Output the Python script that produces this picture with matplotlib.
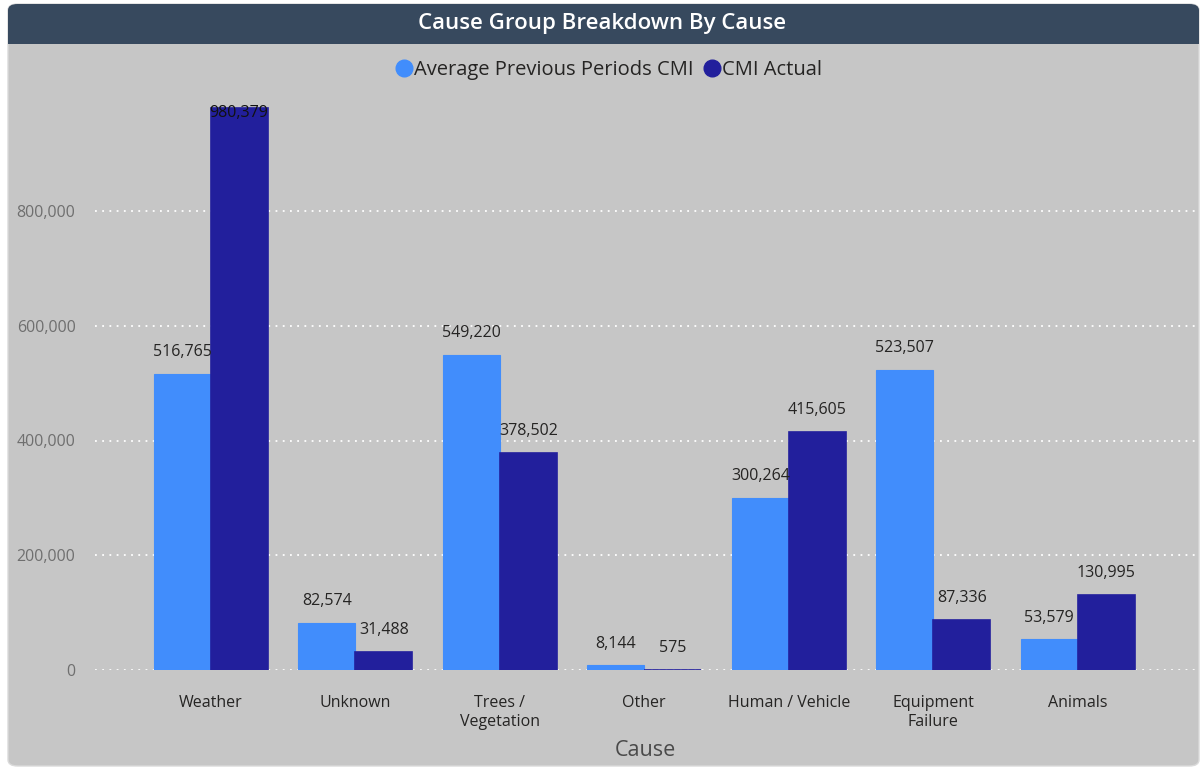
import matplotlib.pyplot as plt
import numpy as np
from matplotlib.patches import FancyBboxPatch, Rectangle
from matplotlib.lines import Line2D
from matplotlib.ticker import FuncFormatter

plt.rcParams['font.family'] = ['Open Sans', 'DejaVu Sans']

# Data
causes = ['Weather', 'Unknown', 'Trees /\nVegetation', 'Other',
          'Human / Vehicle', 'Equipment\nFailure', 'Animals']
avg_prev_cmi = [516765, 82574, 549220, 8144, 300264, 523507, 53579]
cmi_actual = [980379, 31488, 378502, 575, 415605, 87336, 130995]
series_names = ['Average Previous Periods CMI', 'CMI Actual']
yticks = [0, 200000, 400000, 600000, 800000]

CARD = '#c6c6c6'
HEADER = '#37495e'
LIGHT = '#418dfc'
DARK = '#221f9c'
TEXT = '#252423'

fig = plt.figure(figsize=(12.04, 7.70), dpi=100)
fig.patch.set_facecolor('white')

# Card background and header strip
W, H = 1204, 770
def fx(px): return px / W
def fy(py): return 1 - py / H

card = FancyBboxPatch((fx(8), fy(766)), fx(1199) - fx(8), fy(4) - fy(766),
                      boxstyle='round,pad=0,rounding_size=0.008',
                      transform=fig.transFigure, facecolor=CARD,
                      edgecolor='#dadada', linewidth=1.0, zorder=-3)
fig.patches.append(card)
header = FancyBboxPatch((fx(8), fy(44)), fx(1199) - fx(8), fy(4) - fy(44),
                        boxstyle='round,pad=0,rounding_size=0.008',
                        transform=fig.transFigure, facecolor=HEADER,
                        edgecolor='none', zorder=-2)
fig.patches.append(header)
fig.patches.append(Rectangle((fx(8), fy(44)), fx(1199) - fx(8), fy(30) - fy(44),
                             transform=fig.transFigure, facecolor=HEADER,
                             edgecolor='none', zorder=-2))
fig.text(0.5, fy(24), 'Cause Group Breakdown By Cause', color='white',
         fontsize=16, ha='center', va='center', fontweight='semibold')

# Plot area
ax = fig.add_axes([fx(95), fy(670), fx(1195) - fx(95), fy(96.25) - fy(670)])
ax.set_facecolor('none')
x = np.arange(len(causes))
bw = 0.395
b1 = ax.bar(x - bw / 2, avg_prev_cmi, bw, color=LIGHT, edgecolor=LIGHT,
            linewidth=0.8, zorder=3)
b2 = ax.bar(x + bw / 2, cmi_actual, bw, color=DARK, edgecolor=DARK,
            linewidth=1.2, zorder=3)

ax.set_xlim(-0.80, 6.81)
ax.set_ylim(0, 1000000)
ax.set_yticks(yticks)
ax.yaxis.set_major_formatter(FuncFormatter(lambda v, p: f'{int(v):,}'))
ax.grid(axis='y', color='white', linestyle=(0, (1, 3)), linewidth=1.3, zorder=1)
ax.set_axisbelow(True)
for s in ax.spines.values():
    s.set_visible(False)
ax.tick_params(axis='y', length=0, pad=14, labelsize=11.5, labelcolor='#6f6f6f')
ax.tick_params(axis='x', length=0, pad=18, labelsize=11.5, labelcolor=TEXT)
ax.set_xticks(x)
ax.set_xticklabels(causes, linespacing=1.25)
ax.set_xlabel('Cause', fontsize=15.5, color='#4a4a4a', labelpad=7)

# Value labels
top = ax.get_ylim()[1]
for bars, vals in ((b1, avg_prev_cmi), (b2, cmi_actual)):
    for rect, v in zip(bars, vals):
        cx = rect.get_x() + rect.get_width() / 2
        if v > 0.93 * top:
            ax.annotate(f'{v:,}', (cx, v), xytext=(0, 2), textcoords='offset points',
                        ha='center', va='top', fontsize=11.5, color='#111111', zorder=4)
        else:
            ax.annotate(f'{v:,}', (cx, v), xytext=(0, 15.5), textcoords='offset points',
                        ha='center', va='center', fontsize=11.5, color=TEXT, zorder=4)

# Legend
handles = [Line2D([], [], marker='o', linestyle='none', markersize=12, color=c)
           for c in (LIGHT, DARK)]
fig.legend(handles, series_names, loc='center', bbox_to_anchor=(fx(607), fy(70)),
           ncol=2, frameon=False, fontsize=14.5, handletextpad=-0.1,
           columnspacing=0.3, handlelength=1.2, labelcolor=TEXT)

fig.savefig('out.png', dpi=100, facecolor='white')
